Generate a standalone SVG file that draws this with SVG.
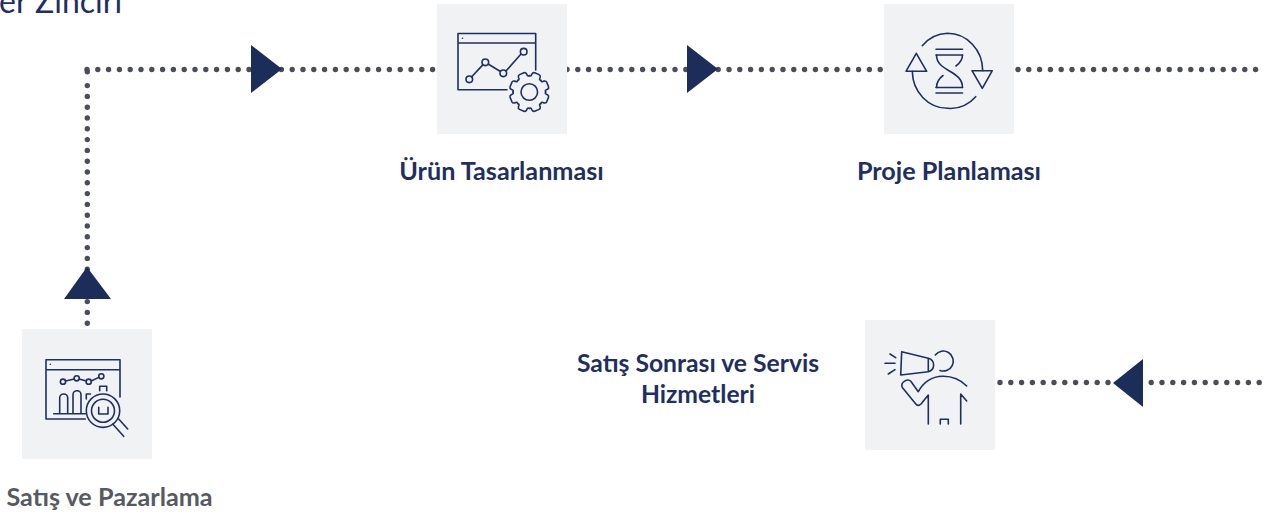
<svg xmlns="http://www.w3.org/2000/svg" xmlns:xlink="http://www.w3.org/1999/xlink" width="1263" height="516" viewBox="0 0 1263 516">
<style>
.tile{fill:#f1f2f4}
.ic{fill:none;stroke:#1f2f63;stroke-width:1.6;stroke-linecap:round;stroke-linejoin:round}
.dot{fill:none;stroke:#4b4e58;stroke-width:5.4;stroke-linecap:round;stroke-dasharray:0 10.8}
.tri{fill:#1c2d5a}
.lb{font-family:"Lato","Liberation Sans",sans-serif;font-weight:700;font-size:25.2px;fill:#1f2f63;text-anchor:middle}
.lb2{font-size:24.7px}
.title{font-family:"Lato","Liberation Sans",sans-serif;font-size:32px;fill:#1f2f63}
</style>
<defs>
<path id="gt" d="M-6.2-15.2Q-4.6-14.8-4.5-16.4L-4.4-17.8Q-4.2-19.6-2.4-19.8H2.4Q4.2-19.6 4.4-17.8L4.5-16.4Q4.6-14.8 6.2-15.2"/>
</defs>
<rect width="1263" height="516" fill="#fff"/>
<text class="title" x="-1" y="13">er Zinciri</text>
<g id="connectors">
<path class="dot" d="M87.3 323.2V85M87.3 71.8V71.7"/>
<path class="dot" d="M87 69.5H437"/>
<path class="dot" d="M567 69.5H884"/>
<path class="dot" d="M1018 69.5H1263"/>
<path class="dot" d="M1000 382.5H1263"/>
<path class="tri" d="M251 45V93L282 69Z"/>
<path class="tri" d="M687 45V93L718 69Z"/>
<path class="tri" d="M87 267L64 299H111Z"/>
<path class="tri" d="M1143 359V407L1113 383Z"/>
</g>
<g id="node-urun">
<rect class="tile" x="437" y="4" width="130" height="130"/>
<path class="ic" d="M507 89.7H458V33.5H535.7V70M458 43H535.7"/>
<circle cx="462.5" cy="38.3" r=".8" fill="#1f2f63"/>
<path class="ic" d="M471.5 77L483 64.6M488.5 64.2L500 71.2M506 71L520.8 54.2"/>
<circle class="ic" cx="469.3" cy="79.3" r="3.3"/>
<circle class="ic" cx="485.3" cy="62.3" r="3.3"/>
<circle class="ic" cx="503.3" cy="73.3" r="3.3"/>
<circle class="ic" cx="523.7" cy="51.7" r="3.3"/>
<circle class="ic" cx="529.3" cy="92" r="8.3"/>
<g class="ic">
<use xlink:href="#gt" href="#gt" transform="translate(529.3 92) rotate(22.5)"/>
<use xlink:href="#gt" href="#gt" transform="translate(529.3 92) rotate(67.5)"/>
<use xlink:href="#gt" href="#gt" transform="translate(529.3 92) rotate(112.5)"/>
<use xlink:href="#gt" href="#gt" transform="translate(529.3 92) rotate(157.5)"/>
<use xlink:href="#gt" href="#gt" transform="translate(529.3 92) rotate(202.5)"/>
<use xlink:href="#gt" href="#gt" transform="translate(529.3 92) rotate(247.5)"/>
<use xlink:href="#gt" href="#gt" transform="translate(529.3 92) rotate(292.5)"/>
<use xlink:href="#gt" href="#gt" transform="translate(529.3 92) rotate(337.5)"/>
</g>
<text class="lb" x="501.5" y="180">Ürün Tasarlanması</text>
</g>
<g id="node-proje">
<rect class="tile" x="884" y="4" width="130" height="130"/>
<path class="ic" d="M936 49.3H962.5M936 55H962.5M936 87.5H962.5M936 93H962.5"/>
<path class="ic" d="M936.5 55C936.5 72 962.5 70 962.5 87.5M962.5 55C962.5 61 958 64.5 956 66M936.5 87.5C936.5 81 941 77 943 75.5"/>
<path class="ic" d="M922.3 45.7A35.2 37.5 0 0 1 947.5 33.3A35.2 37.5 0 0 1 982.7 70.7M975.7 96.7A35.2 37.5 0 0 1 947.5 108.3A35.2 37.5 0 0 1 912.3 71.3"/>
<path class="ic" d="M972 70.7H992.3L982.3 88.3ZM926.7 71.3H906L916.3 53.3Z"/>
<text class="lb" x="949" y="180">Proje Planlaması</text>
</g>
<g id="node-satis">
<rect class="tile" x="22" y="329" width="130" height="130"/>
<path class="ic" d="M85.3 419H46V359.7H120V397M46 369.7H120"/>
<circle cx="50.3" cy="364.3" r=".8" fill="#1f2f63"/>
<path class="ic" d="M65.6 381L74.2 379M79.2 379L86.2 381M91.2 381L98.8 377.4"/>
<circle class="ic" cx="63" cy="381.7" r="2.6"/>
<circle class="ic" cx="76.7" cy="378.3" r="2.6"/>
<circle class="ic" cx="88.7" cy="381.7" r="2.6"/>
<circle class="ic" cx="101.3" cy="376.3" r="2.6"/>
<path class="ic" d="M53.7 413.7H85.3M59.7 413.7V398A4 4 0 0 1 67.7 398V413.7M73 413.7V394.7A4 4 0 0 1 81 394.7V413.7"/>
<path class="ic" d="M90.5 394H86.3V399M99.7 390.7V386.3H106.7V390.7"/>
<circle class="ic" cx="103" cy="410.7" r="16.7"/>
<circle class="ic" cx="103" cy="410.7" r="11.5"/>
<path class="ic" d="M98.7 407.3V414H108V407.3M112.7 424L123.7 436.3M118.7 419L127.7 429"/>
<text class="lb" x="109.5" y="505.5" style="fill:#575a63">Satış ve Pazarlama</text>
</g>
<g id="node-servis">
<rect class="tile" x="865" y="320" width="130" height="130"/>
<path class="ic" d="M901.7 351.7L928.3 358.3V371.7L900.7 375ZM928.3 358.3A7.5 7 0 0 1 928.3 371.7"/>
<path class="ic" d="M935.3 355A10 10 0 1 1 940 370.5"/>
<path class="ic" d="M890 354L895.7 357.7M885 363.3H895M888.3 374L895 369.7"/>
<path class="ic" d="M966.7 386C955 374 930 370 918.3 391.7L911 381.5C908 378 900 382 902.3 387.5L915 403C917 406 919 406 921 404L928.3 395V424M966.7 401L960.7 394V424M940.3 424V419.3H948.3V424"/>
<text class="lb lb2" x="698" y="372">Satış Sonrası ve Servis</text>
<text class="lb lb2" x="698" y="403">Hizmetleri</text>
</g>
</svg>
